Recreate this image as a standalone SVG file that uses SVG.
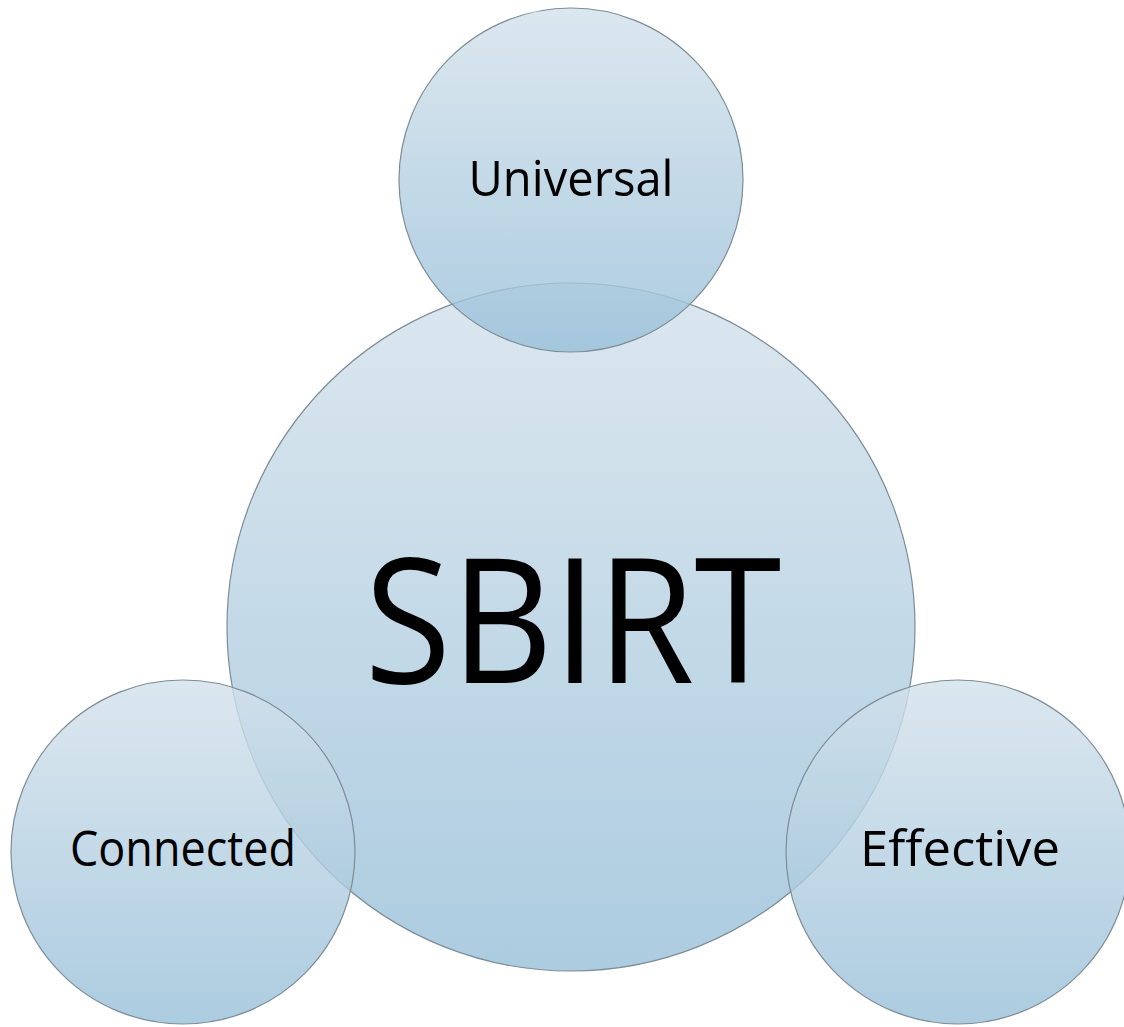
<svg xmlns="http://www.w3.org/2000/svg" width="1124" height="1027" viewBox="0 0 1124 1027">
<style>
.c{fill:url(#g);fill-opacity:0.8;stroke:#7d8c96;stroke-width:1.2}
.t{font-family:"Open Sans","Noto Sans","Liberation Sans",sans-serif;fill:#000;text-anchor:middle}
</style>
<defs>
<linearGradient id="g" x1="0" y1="0" x2="0" y2="1">
<stop offset="0" stop-color="#d3e1eb"/>
<stop offset="1" stop-color="#97bfd8"/>
</linearGradient>
</defs>
<rect width="1124" height="1027" fill="#fff"/>
<g id="node-sbirt">
<circle class="c" cx="571" cy="627" r="344"/>
<text class="t" x="573" y="683" font-size="174" textLength="417" lengthAdjust="spacingAndGlyphs">SBIRT</text>
</g>
<g id="node-universal">
<circle class="c" cx="571" cy="180" r="172"/>
<text class="t" x="571" y="196" font-size="49" textLength="205" lengthAdjust="spacingAndGlyphs">Universal</text>
</g>
<g id="node-connected">
<circle class="c" cx="183" cy="852" r="172"/>
<text class="t" x="183" y="866" font-size="49" textLength="226" lengthAdjust="spacingAndGlyphs">Connected</text>
</g>
<g id="node-effective">
<circle class="c" cx="958" cy="852" r="172"/>
<text class="t" x="960" y="866" font-size="49" textLength="200" lengthAdjust="spacingAndGlyphs">Effective</text>
</g>
<g id="connectors"/>
</svg>
